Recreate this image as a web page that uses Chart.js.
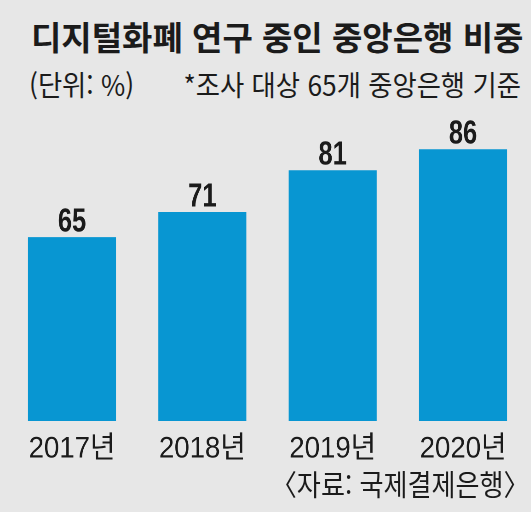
<!DOCTYPE html>
<html lang="ko">
<head>
<meta charset="utf-8">
<script src="https://cdn.jsdelivr.net/npm/chart.js@4/dist/chart.umd.min.js"></script>
<style>
  html, body { margin: 0; padding: 0; background: #e7e7e7; }
  #wrap { position: relative; width: 531px; height: 512px; overflow: hidden; background: #e7e7e7; }
  .txt { position: absolute; font-family: 'Noto Sans CJK KR', sans-serif; color: #1b1b1b; line-height: 1; white-space: nowrap; }
  #title { left: 31px; top: 20px; font-size: 33px; font-weight: 700; }
  #unit { left: 29px; top: 70px; font-size: 28px; font-weight: 400; transform: scaleX(0.94); transform-origin: 0 0; }
  #note { right: 10px; top: 70px; font-size: 28px; font-weight: 400; transform: scaleX(0.94); transform-origin: 100% 0; }
  #source { right: 1px; top: 469px; font-size: 29px; font-weight: 400; transform: scaleX(0.9); transform-origin: 100% 0; }
  #chart { position: absolute; left: 0; top: 0; width: 578px; height: 512px; transform: scaleX(0.92); transform-origin: 0 0; }
</style>
</head>
<body>
<div id="wrap">
  <div class="txt" id="title">디지털화폐 연구 중인 중앙은행 비중</div>
  <div class="txt" id="unit">(단위: %)</div>
  <div class="txt" id="note">*조사 대상 65개 중앙은행 기준</div>
  <canvas id="chart" width="578" height="512"></canvas>
  <div class="txt" id="source">〈자료: 국제결제은행〉</div>
</div>
<script>
// 데이터
const years = ['2017년', '2018년', '2019년', '2020년'];
const shares = [65, 71, 81, 86];

// 막대 위 값 표시
const valueLabels = {
    id: 'valueLabels',
    afterDatasetsDraw(chart) {
        const ctx = chart.ctx;
        const meta = chart.getDatasetMeta(0);
        ctx.save();
        ctx.fillStyle = '#1b1b1b';
        ctx.font = 'bold 33px "Liberation Sans", sans-serif';
        ctx.textAlign = 'center';
        ctx.textBaseline = 'alphabetic';
        meta.data.forEach(function (bar, i) {
            ctx.save();
            ctx.translate(bar.x, bar.y - 5.6);
            ctx.scale(0.84, 1);
            ctx.fillText(String(shares[i]), 0, 0);
            ctx.restore();
        });
        ctx.restore();
    }
};

const ctx = document.getElementById('chart').getContext('2d');
new Chart(ctx, {
    type: 'bar',
    data: {
        labels: years,
        datasets: [{
            data: shares,
            backgroundColor: '#0896d2',
            borderWidth: 0,
            categoryPercentage: 1,
            barPercentage: 0.675
        }]
    },
    options: {
        responsive: false,
        animation: false,
        devicePixelRatio: 2,
        layout: { padding: { left: 7.4, right: 3.9, top: 110, bottom: 35 } },
        plugins: { legend: { display: false }, tooltip: { enabled: false } },
        scales: {
            x: {
                grid: { display: false, drawTicks: false },
                border: { display: false },
                ticks: {
                    padding: 10,
                    color: '#1b1b1b',
                    font: { family: '"Liberation Sans", "Noto Sans CJK KR", sans-serif', size: 30, lineHeight: 1.2 }
                }
            },
            y: { display: false, min: 21, max: 95.4 }
        }
    },
    plugins: [valueLabels]
});
</script>
</body>
</html>
